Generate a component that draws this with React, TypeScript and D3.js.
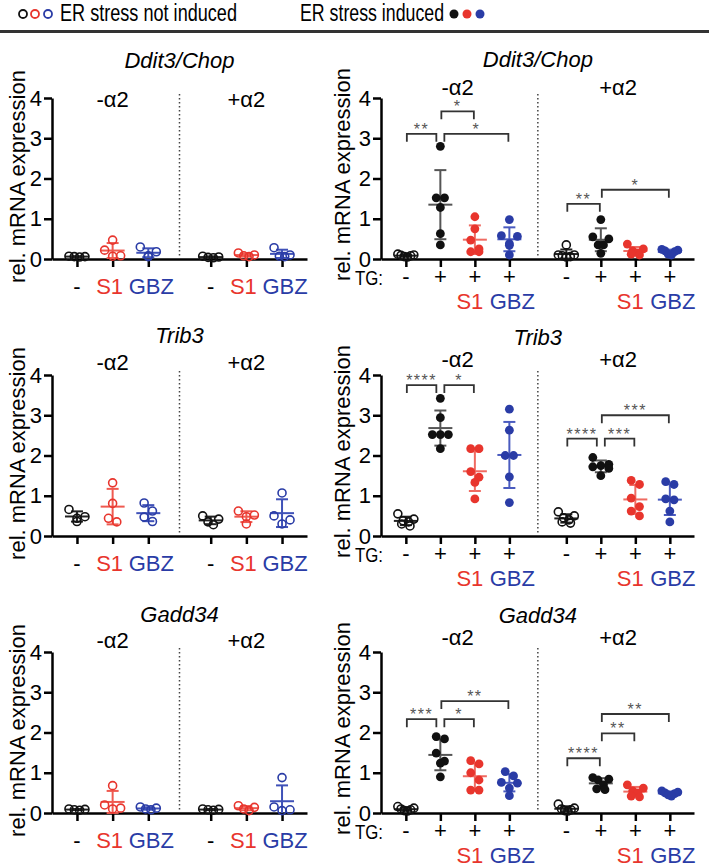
import React, { useEffect, useRef } from 'react';
import * as d3 from 'd3';

const FONT = '"Liberation Sans", Arial, Helvetica, sans-serif';

const genes = ['Ddit3/Chop', 'Trib3', 'Gadd34'];
const alphaLabels = ['-α2', '+α2'];
const treatLabels = ['-', 'S1', 'GBZ'];
const tgLabels = ['-', '+', '+', '+'];
const yTicks = [0, 1, 2, 3, 4];

// ER stress not induced: -α2 (ctrl, S1, GBZ), +α2 (ctrl, S1, GBZ)
const chopNotInduced = [
  [0.07, 0.06, 0.06, 0.05], [0.47, 0.22, 0.08, 0.07], [0.3, 0.18, 0.08, 0.06],
  [0.07, 0.05, 0.04, 0.03], [0.15, 0.1, 0.08, 0.06], [0.28, 0.1, 0.07, 0.06],
];
const trib3NotInduced = [
  [0.66, 0.48, 0.44, 0.36], [1.32, 0.81, 0.44, 0.35], [0.82, 0.62, 0.47, 0.36],
  [0.5, 0.42, 0.35, 0.28], [0.62, 0.52, 0.48, 0.3], [1.07, 0.5, 0.4, 0.3],
];
const gadd34NotInduced = [
  [0.1, 0.09, 0.08, 0.07], [0.68, 0.2, 0.12, 0.1], [0.15, 0.12, 0.1, 0.08],
  [0.1, 0.09, 0.08, 0.07], [0.18, 0.14, 0.1, 0.06], [0.88, 0.15, 0.08, 0.06],
];

// ER stress induced: -α2 (no TG, TG, TG+S1, TG+GBZ), +α2 (same)
const chopInduced = [
  [0.12, 0.1, 0.09, 0.08, 0.06, 0.05], [2.8, 1.52, 1.52, 1.28, 0.63, 0.35],
  [1.05, 0.75, 0.47, 0.25, 0.18, 0.18], [0.98, 0.58, 0.56, 0.38, 0.34, 0.1],
  [0.35, 0.1, 0.1, 0.08, 0.06, 0.05], [0.98, 0.55, 0.5, 0.35, 0.35, 0.14],
  [0.37, 0.25, 0.2, 0.15, 0.12, 0.1], [0.24, 0.22, 0.2, 0.18, 0.12, 0.1],
];
const trib3Induced = [
  [0.55, 0.42, 0.38, 0.35, 0.3, 0.25], [3.42, 2.94, 2.52, 2.52, 2.52, 2.17],
  [2.17, 2.17, 1.6, 1.46, 1.33, 0.92], [3.15, 2.63, 2.0, 2.0, 1.47, 0.83],
  [0.6, 0.5, 0.45, 0.4, 0.35, 0.32], [1.95, 1.78, 1.75, 1.72, 1.68, 1.5],
  [1.38, 1.28, 0.94, 0.73, 0.62, 0.5], [1.35, 1.28, 0.92, 0.9, 0.62, 0.35],
];
const gadd34Induced = [
  [0.16, 0.12, 0.1, 0.08, 0.06, 0.05], [1.9, 1.84, 1.49, 1.29, 1.24, 0.9],
  [1.3, 1.22, 1.0, 0.82, 0.57, 0.57], [1.03, 0.92, 0.76, 0.74, 0.62, 0.43],
  [0.22, 0.12, 0.1, 0.08, 0.06, 0.05], [0.88, 0.84, 0.82, 0.7, 0.6, 0.58],
  [0.7, 0.62, 0.55, 0.5, 0.42, 0.4], [0.55, 0.52, 0.5, 0.48, 0.45, 0.42],
];

// significance brackets: group indices and bracket height (data units)
const chopBrackets = [
  { from: 0, to: 1, y: 3.11, label: '**' },
  { from: 1, to: 2, y: 3.67, label: '*' },
  { from: 1, to: 3, y: 3.11, label: '*' },
  { from: 4, to: 5, y: 1.37, label: '**' },
  { from: 5, to: 7, y: 1.72, label: '*' },
];
const trib3Brackets = [
  { from: 0, to: 1, y: 3.75, label: '****' },
  { from: 1, to: 2, y: 3.75, label: '*' },
  { from: 4, to: 5, y: 2.42, label: '****' },
  { from: 5, to: 6, y: 2.42, label: '***' },
  { from: 5, to: 7, y: 3.0, label: '***' },
];
const gadd34Brackets = [
  { from: 0, to: 1, y: 2.33, label: '***' },
  { from: 1, to: 2, y: 2.33, label: '*' },
  { from: 1, to: 3, y: 2.78, label: '**' },
  { from: 4, to: 5, y: 1.36, label: '****' },
  { from: 5, to: 6, y: 1.98, label: '**' },
  { from: 5, to: 7, y: 2.46, label: '**' },
];

const RED = '#e8352d';
const BLUE = '#2a3ca6';

// layout per row
const rowY0 = [259, 536, 813];
const rowY4 = [98, 375, 652];
const leftTitleY = [68, 343, 622];
const leftAlphaY = [107, 370, 648];
const rightTitleY = [67, 345, 623];
const rightAlphaY = [95, 367, 645];

const panels = [
  { side: 'left', row: 0, groups: chopNotInduced, brackets: [] },
  { side: 'right', row: 0, groups: chopInduced, brackets: chopBrackets },
  { side: 'left', row: 1, groups: trib3NotInduced, brackets: [] },
  { side: 'right', row: 1, groups: trib3Induced, brackets: trib3Brackets },
  { side: 'left', row: 2, groups: gadd34NotInduced, brackets: [] },
  { side: 'right', row: 2, groups: gadd34Induced, brackets: gadd34Brackets },
];

// Prism-like scatter layout: bin points into rows, spread each row symmetrically
function swarm(values, cx, y) {
  const sorted = [...values].sort((a, b) => b - a);
  const rows = [];
  sorted.forEach(v => {
    const last = rows[rows.length - 1];
    if (last && Math.abs(y(v) - y(last[0])) < 9) last.push(v);
    else rows.push([v]);
  });
  const out = [];
  rows.forEach(r => {
    const n = r.length;
    const step = n > 1 ? Math.min(8.3, 16 / (n - 1)) : 0;
    const offs = d3.range(n).map(i => (i - (n - 1) / 2) * step);
    offs.sort((a, b) => Math.abs(b) - Math.abs(a) || a - b);
    r.forEach((v, i) => out.push({ x: cx + offs[i], y: y(v) }));
  });
  return out;
}

function drawPanel(svg, p) {
  const L = p.side === 'left';
  const perGroup = L ? 3 : 4;
  const gap = L ? 0.75 : 0.65;
  const slot = i => (i < perGroup ? i : i + gap);
  const x = d3.scaleLinear()
    .domain(L ? [-0.7, 6.45] : [-0.72, 8.35])
    .range(L ? [52, 307] : [381, 694]);
  const y = d3.scaleLinear().domain([0, 4]).range([rowY0[p.row], rowY4[p.row]]);
  const x0 = x.range()[0];
  const g = svg.append('g');

  // y label
  g.append('text')
    .attr('transform', `translate(${x0 - (L ? 27 : 31)},${(y(0) + y(4)) / 2 - (L ? 2 : 4)}) rotate(-90)`)
    .attr('text-anchor', 'middle')
    .attr('font-size', 22)
    .text('rel. mRNA expression');

  // axes
  const ya = g.append('g').attr('transform', `translate(${x0},0)`)
    .call(d3.axisLeft(y).tickValues(yTicks).tickFormat(d3.format('d')).tickSize(8).tickPadding(2).tickSizeOuter(0));
  const xa = g.append('g').attr('transform', `translate(0,${y(0)})`)
    .call(d3.axisBottom(x).tickValues(p.groups.map((_, i) => slot(i))).tickFormat(() => '').tickSize(8).tickSizeOuter(0));
  [ya, xa].forEach(a => {
    a.attr('font-family', FONT).attr('font-size', 22);
    a.select('.domain').attr('stroke', '#000').attr('stroke-width', 2.5);
    a.selectAll('.tick line').attr('stroke', '#000').attr('stroke-width', 2.5);
    a.selectAll('.tick text').attr('fill', '#000');
  });

  // separator
  const sep = (slot(perGroup - 1) + slot(perGroup)) / 2;
  g.append('line')
    .attr('x1', x(sep)).attr('x2', x(sep))
    .attr('y1', y(4) - 4).attr('y2', y(0) - 2)
    .attr('stroke', '#444').attr('stroke-width', 1.5).attr('stroke-dasharray', '1.5 2.5');

  // titles
  g.append('text')
    .attr('x', x(sep)).attr('y', (L ? leftTitleY : rightTitleY)[p.row])
    .attr('text-anchor', 'middle').attr('font-style', 'italic').attr('font-size', 22)
    .text(genes[p.row]);
  const mid = (perGroup - 1) / 2;
  alphaLabels.forEach((lab, k) => {
    g.append('text')
      .attr('x', x(mid + k * (perGroup + gap)))
      .attr('y', (L ? leftAlphaY : rightAlphaY)[p.row])
      .attr('text-anchor', 'middle').attr('font-size', 22)
      .text(lab);
  });

  // x labels
  const y0 = y(0);
  if (L) {
    p.groups.forEach((_, i) => {
      const j = i % 3;
      g.append('text')
        .attr('x', x(slot(i)) + [0, -3, 3][j]).attr('y', y0 + 35)
        .attr('text-anchor', 'middle').attr('font-size', 22)
        .attr('fill', ['#000', RED, BLUE][j])
        .text(treatLabels[j]);
    });
  } else {
    g.append('text').attr('x', 355).attr('y', y0 + 26).attr('font-size', 21)
      .attr('textLength', 28).attr('lengthAdjust', 'spacingAndGlyphs')
      .text('TG:');
    p.groups.forEach((_, i) => {
      const j = i % 4;
      g.append('text')
        .attr('x', x(slot(i))).attr('y', y0 + 25)
        .attr('text-anchor', 'middle').attr('font-size', 22)
        .text(tgLabels[j]);
      if (j >= 2) {
        g.append('text')
          .attr('x', x(slot(i)) + (j === 2 ? -5 : 3)).attr('y', y0 + 50)
          .attr('text-anchor', 'middle').attr('font-size', 22)
          .attr('fill', j === 2 ? RED : BLUE)
          .text(treatLabels[j - 1]);
      }
    });
  }

  // groups: error bars + points
  p.groups.forEach((vals, i) => {
    const j = L ? i % 3 : i % 4;
    const filled = !L && j > 0;
    const ci = L ? j : Math.max(0, j - 1);
    const color = ['#111', RED, BLUE][ci];
    const errColor = filled ? ['#555', '#ef6b62', '#4a5bbf'][ci] : ['#222', '#ef5a50', '#3f51b8'][ci];
    const cx = x(slot(i));
    const m = d3.mean(vals);
    const s = d3.deviation(vals);
    const lo = Math.max(0, m - s);
    const hi = m + s;
    const eg = g.append('g').attr('stroke', errColor).attr('stroke-width', 2);
    eg.append('line').attr('x1', cx).attr('x2', cx).attr('y1', y(lo)).attr('y2', y(hi));
    eg.append('line').attr('x1', cx - 6).attr('x2', cx + 6).attr('y1', y(hi)).attr('y2', y(hi));
    if (m - s > 0) eg.append('line').attr('x1', cx - 6).attr('x2', cx + 6).attr('y1', y(lo)).attr('y2', y(lo));
    eg.append('line').attr('x1', cx - 12).attr('x2', cx + 12).attr('y1', y(m)).attr('y2', y(m));

    g.append('g').selectAll('circle')
      .data(swarm(vals, cx, y))
      .enter()
      .append('circle')
      .attr('cx', d => d.x)
      .attr('cy', d => d.y)
      .attr('r', filled ? 4.4 : 4)
      .attr('fill', filled ? color : 'none')
      .attr('stroke', color)
      .attr('stroke-width', filled ? 0 : 1.6);
  });

  // brackets
  p.brackets.forEach(b => {
    const sharedRight = p.brackets.some(o => o !== b && o.y === b.y && o.from === b.to);
    const sharedLeft = p.brackets.some(o => o !== b && o.y === b.y && o.to === b.from);
    const x1 = x(slot(b.from)) + (sharedLeft ? 4 : 1);
    const x2 = x(slot(b.to)) - (sharedRight ? 4 : 1);
    const by = y(b.y);
    g.append('path')
      .attr('d', `M${x1},${by + 8}V${by}H${x2}V${by + 8}`)
      .attr('fill', 'none').attr('stroke', '#333').attr('stroke-width', 1.8);
    g.append('text')
      .attr('x', (x1 + x2) / 2).attr('y', by + 1)
      .attr('text-anchor', 'middle').attr('font-size', 16)
      .attr('letter-spacing', 1.5).attr('fill', '#555')
      .text(b.label);
  });
}

const App = () => {
  const svgRef = useRef(null);

  useEffect(() => {
    const svg = d3.select(svgRef.current);
    svg.selectAll('*').remove();

    // legend
    const lg = svg.append('g');
    [23, 35, 48].forEach((cx, i) => {
      lg.append('circle').attr('cx', cx).attr('cy', 14).attr('r', 4)
        .attr('fill', 'none').attr('stroke', ['#111', RED, BLUE][i]).attr('stroke-width', 1.8);
    });
    lg.append('text').attr('x', 60).attr('y', 21).attr('font-size', 23)
      .attr('textLength', 177).attr('lengthAdjust', 'spacingAndGlyphs')
      .text('ER stress not induced');
    lg.append('text').attr('x', 300).attr('y', 21).attr('font-size', 23)
      .attr('textLength', 144).attr('lengthAdjust', 'spacingAndGlyphs')
      .text('ER stress induced');
    [454, 467, 480].forEach((cx, i) => {
      lg.append('circle').attr('cx', cx).attr('cy', 14).attr('r', 4.5)
        .attr('fill', ['#111', RED, BLUE][i]);
    });
    lg.append('line').attr('x1', 0).attr('x2', 709).attr('y1', 31.5).attr('y2', 31.5)
      .attr('stroke', '#333').attr('stroke-width', 3);

    panels.forEach(p => drawPanel(svg, p));
  }, []);

  return (
    <svg
      ref={svgRef}
      width={709}
      height={867}
      style={{ position: 'absolute', left: 0, top: 0, background: '#fff', fontFamily: FONT }}
    />
  );
};

export default App;
